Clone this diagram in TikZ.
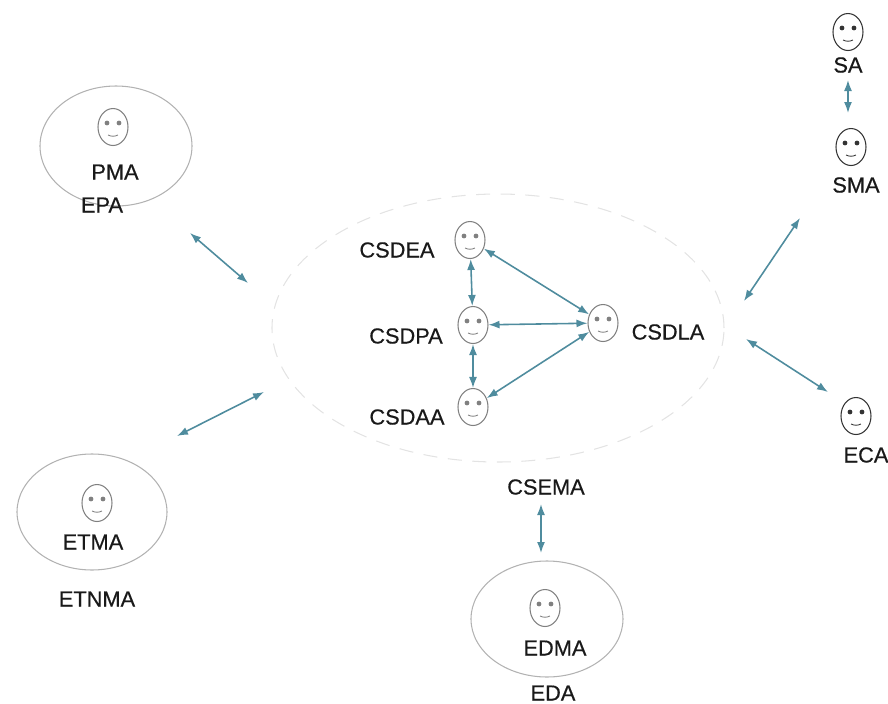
\documentclass[tikz,border=0pt]{standalone}
\usepackage{fontspec}
\setmainfont{Liberation Sans}
\newfontfamily\lblfont[FakeBold=0.5]{Liberation Sans}
\usepackage{xcolor}
\usetikzlibrary{arrows.meta}
\usetikzlibrary{shapes.geometric}
\definecolor{linkcol}{HTML}{4F8C9E}
\tikzset{
    face/.style={ellipse, draw=#1, line width=0.3pt, inner sep=0pt, minimum width=0.30cm, minimum height=0.37cm,
        path picture={
            \fill[#1] ([shift={(-0.06,0.04)}]path picture bounding box.center) circle (0.024);
            \fill[#1] ([shift={(0.06,0.04)}]path picture bounding box.center) circle (0.024);
            \draw[#1, line width=0.25pt] ([shift={(-0.05,-0.08)}]path picture bounding box.center) to[bend right=25] ([shift={(0.05,-0.08)}]path picture bounding box.center);
        }},
    group/.style={ellipse, draw=gray!60, line width=0.3pt, inner sep=0pt},
    lbl/.style={font=\lblfont\fontsize{6.2}{7}\selectfont, text=black!90, inner sep=0pt},
    link/.style={{Latex[length=1.1mm,width=0.8mm]}-{Latex[length=1.1mm,width=0.8mm]}, color=linkcol, line width=0.45pt}
}
\begin{document}
\begin{tikzpicture}
    \useasboundingbox (0,0) rectangle (8.88,7.03);
    %GROUPS
    \node[group, minimum width=4.52cm, minimum height=2.68cm, draw=gray!22, dash pattern=on 4pt off 3pt] (csema) at (4.98,3.75) {};
    \node[group, minimum width=1.52cm, minimum height=1.20cm] (epa) at (1.16,5.57) {};
    \node[group, minimum width=1.50cm, minimum height=1.16cm] (etnma) at (0.92,1.91) {};
    \node[group, minimum width=1.52cm, minimum height=1.16cm] (eda) at (5.47,0.84) {};
    %FACES
    \node[face=gray] (csdea) at (4.70,4.63) {};
    \node[face=gray] (csdpa) at (4.73,3.78) {};
    \node[face=gray] (csdaa) at (4.73,2.96) {};
    \node[face=gray] (csdla) at (6.03,3.80) {};
    \node[face=gray] (pma) at (1.13,5.76) {};
    \node[face=gray] (etma) at (0.97,2.00) {};
    \node[face=gray] (edma) at (5.45,0.95) {};
    \node[face=black!80] (sa) at (8.48,6.71) {};
    \node[face=black!80] (sma) at (8.51,5.56) {};
    \node[face=black!80] (eca) at (8.56,2.87) {};
    %LABELS
    \node[lbl] (csdealbl) at (3.97,4.53) {CSDEA};
    \node[lbl] (csdpalbl) at (4.06,3.67) {CSDPA};
    \node[lbl] (csdaalbl) at (4.07,2.86) {CSDAA};
    \node[lbl] (csdlalbl) at (6.68,3.71) {CSDLA};
    \node[lbl] (csemalbl) at (5.46,2.16) {CSEMA};
    \node[lbl] (pmalbl) at (1.15,5.31) {PMA};
    \node[lbl] (epalbl) at (1.02,4.98) {EPA};
    \node[lbl] (etmalbl) at (0.93,1.61) {ETMA};
    \node[lbl] (etnmalbl) at (0.97,1.04) {ETNMA};
    \node[lbl] (edmalbl) at (5.55,0.55) {EDMA};
    \node[lbl] (edalbl) at (5.53,0.10) {EDA};
    \node[lbl] (salbl) at (8.48,6.38) {SA};
    \node[lbl] (smalbl) at (8.56,5.18) {SMA};
    \node[lbl] (ecalbl) at (8.66,2.48) {ECA};
    %FREE ENDS
    \coordinate (epaend) at (1.90,4.70);
    \coordinate (csemaepa) at (2.48,4.20);
    \coordinate (etnmaend) at (1.77,2.67);
    \coordinate (csemaetnma) at (2.64,3.11);
    \coordinate (smaend) at (8.00,4.85);
    \coordinate (csemasma) at (7.44,4.02);
    \coordinate (ecaend) at (8.28,3.11);
    \coordinate (csemaeca) at (7.46,3.64);
    \coordinate (csemaeda) at (5.41,1.99);
    \coordinate (edaend) at (5.41,1.50);
    \coordinate (saend) at (8.48,6.23);
    \coordinate (smatop) at (8.48,5.90);
    %LINKS
    \draw[link] (csdea) -- (csdpa);
    \draw[link] (csdpa) -- (csdaa);
    \draw[link] (csdea) -- (csdla);
    \draw[link] (csdpa) -- (csdla);
    \draw[link] (csdaa) -- (csdla);
    \draw[link] (epaend) -- (csemaepa);
    \draw[link] (etnmaend) -- (csemaetnma);
    \draw[link] (smaend) -- (csemasma);
    \draw[link] (ecaend) -- (csemaeca);
    \draw[link] (csemaeda) -- (edaend);
    \draw[link] (saend) -- (smatop);
\end{tikzpicture}
\end{document}
